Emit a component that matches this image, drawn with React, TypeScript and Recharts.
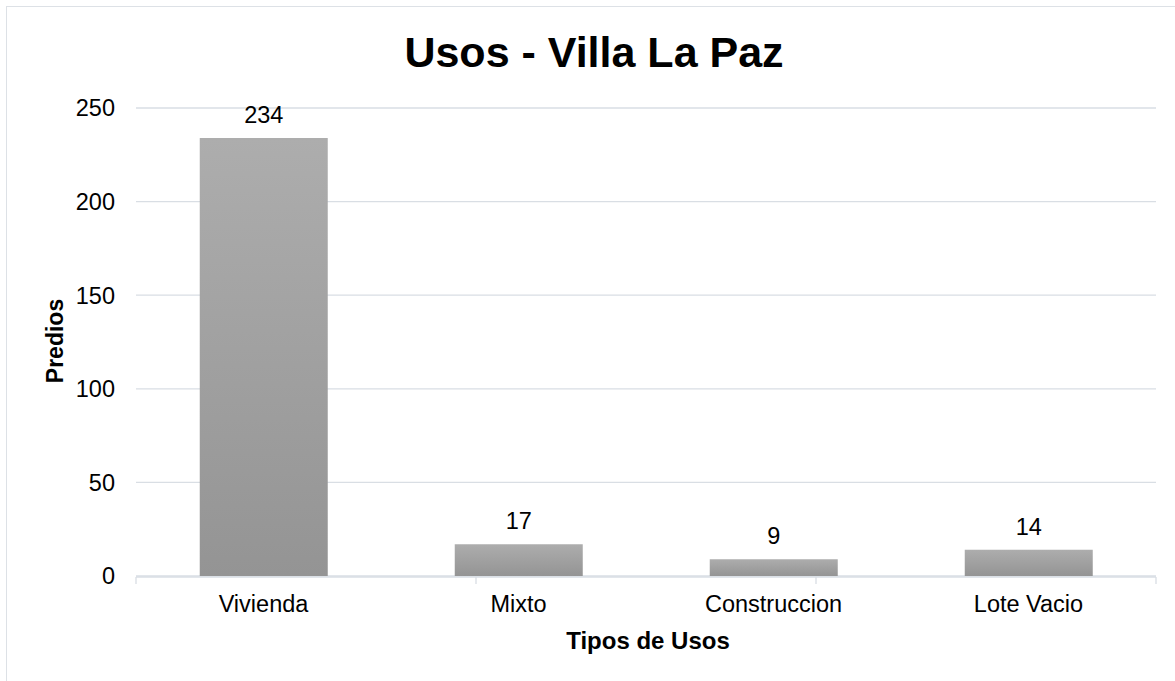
import { BarChart, Bar, XAxis, YAxis, CartesianGrid, LabelList } from "recharts";

const categories = ["Vivienda", "Mixto", "Construccion", "Lote Vacio"];
const predios = [234, 17, 9, 14];
const yTicks = [0, 50, 100, 150, 200, 250];
const bandEdges = [0, 1, 2, 3, 4];

const data = categories.map((name, i) => ({ name, value: predios[i] }));

const font = "'Liberation Sans', Arial, sans-serif";

export default function App() {
  return (
    <div
      style={{
        position: "absolute",
        left: 0,
        top: 0,
        width: 1175,
        height: 681,
        overflow: "hidden",
        background: "#fff",
        fontFamily: font,
      }}
    >
      <div
        style={{
          position: "absolute",
          left: 6,
          top: 6,
          width: 1300,
          height: 800,
          border: "1px solid #dde1e6",
        }}
      />
      <div
        style={{
          position: "absolute",
          left: 594,
          top: 52,
          transform: "translate(-50%, -50%)",
          fontSize: 43,
          fontWeight: "bold",
          color: "#000",
          whiteSpace: "nowrap",
        }}
      >
        Usos - Villa La Paz
      </div>
      <div
        style={{
          position: "absolute",
          left: 55,
          top: 341,
          transform: "translate(-50%, -50%) rotate(-90deg)",
          fontSize: 23,
          fontWeight: "bold",
          whiteSpace: "nowrap",
        }}
      >
        Predios
      </div>
      <div
        style={{
          position: "absolute",
          left: 648,
          top: 641,
          transform: "translate(-50%, -50%)",
          fontSize: 24,
          fontWeight: "bold",
          whiteSpace: "nowrap",
        }}
      >
        Tipos de Usos
      </div>
      <div style={{ position: "absolute", left: 0, top: 0 }}>
        <BarChart
          width={1175}
          height={681}
          data={data}
          margin={{ top: 108, right: 19, bottom: 103, left: 76 }}
          barCategoryGap="25%"
        >
          <defs>
            <linearGradient id="barFill" x1="0" y1="0" x2="0" y2="1">
              <stop offset="0%" stopColor="#adadad" />
              <stop offset="100%" stopColor="#949494" />
            </linearGradient>
          </defs>
          <CartesianGrid vertical={false} stroke="#d9dee4" strokeWidth={1.3} />
          <XAxis
            dataKey="name"
            xAxisId="cat"
            axisLine={false}
            tickLine={false}
            tickMargin={13}
            height={1}
            tick={{ fontSize: 23.5, fill: "#000", fontFamily: font }}
          />
          <XAxis
            xAxisId="edges"
            type="number"
            domain={[0, 4]}
            ticks={bandEdges}
            interval={0}
            axisLine={{ stroke: "#d9dee4", strokeWidth: 1.3 }}
            tickLine={{ stroke: "#d9dee4", strokeWidth: 1.3 }}
            tickSize={7}
            tickFormatter={() => ""}
            height={1}
          />
          <YAxis
            domain={[0, 250]}
            ticks={yTicks}
            width={60}
            axisLine={false}
            tickLine={false}
            tickMargin={15}
            tick={{ fontSize: 23.5, fill: "#000", fontFamily: font }}
          />
          <Bar dataKey="value" xAxisId="cat" fill="url(#barFill)" isAnimationActive={false}>
            <LabelList
              dataKey="value"
              position="top"
              offset={15}
              style={{ fontSize: 23.5, fill: "#000", fontFamily: font }}
            />
          </Bar>
        </BarChart>
      </div>
    </div>
  );
}
